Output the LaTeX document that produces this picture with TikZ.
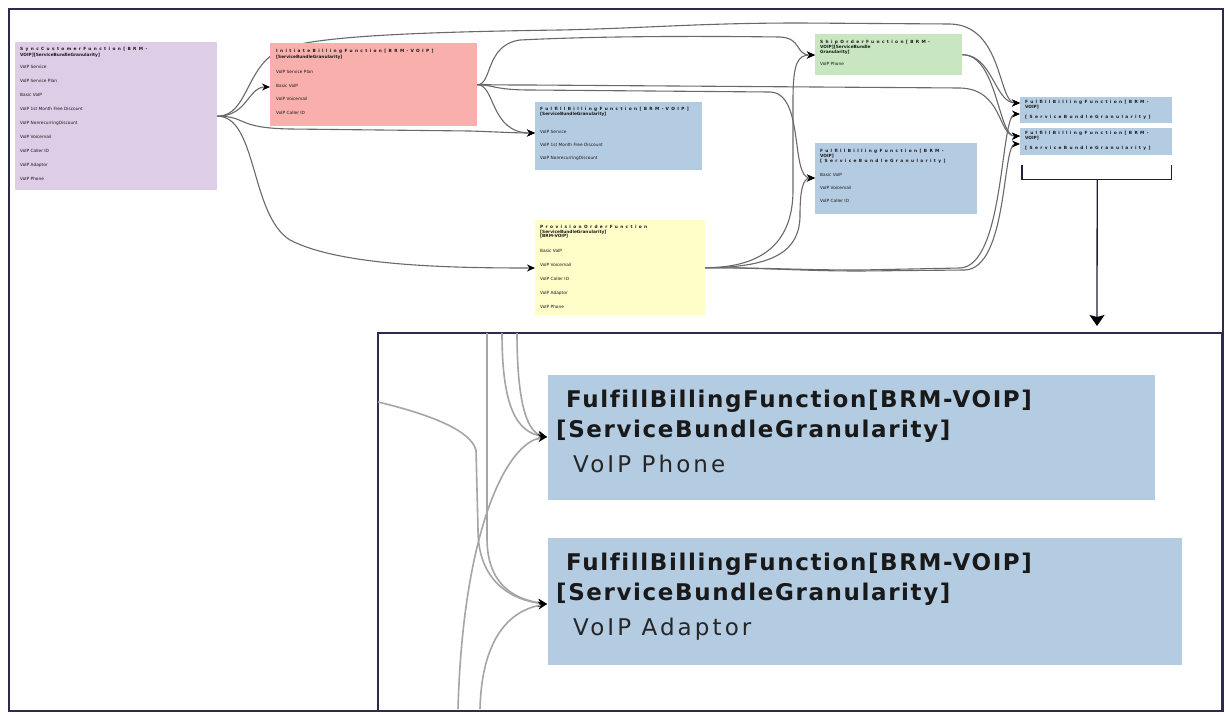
\documentclass[tikz,border=0pt]{standalone}
\usepackage{fontspec}
\setmainfont{DejaVu Sans}
\newfontfamily\ttlsp{DejaVu Sans}[LetterSpace=55]
\newfontfamily\insb{DejaVu Sans}[LetterSpace=7,Ligatures=NoCommon]
\newfontfamily\insr{DejaVu Sans}[LetterSpace=13.5,Ligatures=NoCommon]
\usetikzlibrary{arrows.meta,calc}
\pgfdeclarelayer{bg}
\pgfsetlayers{bg,main}
\definecolor{purp}{RGB}{221,205,230}
\definecolor{salmon}{RGB}{249,176,172}
\definecolor{lblue}{RGB}{180,204,226}
\definecolor{lyel}{RGB}{255,253,200}
\definecolor{lgreen}{RGB}{200,230,192}
\definecolor{navy}{RGB}{44,44,80}
\definecolor{edgegray}{RGB}{105,105,105}
\definecolor{insgray}{RGB}{165,165,165}
\newcommand{\tsp}[1]{{\ttlsp\bfseries #1}}
\tikzset{
 fbox/.style={anchor=north west, inner sep=0pt, draw=none, fill=#1},
 btxt/.style={anchor=north west, inner sep=0pt, align=left, font=\fontsize{4.3}{5}\selectfont, text=black!90},
 edge/.style={draw=edgegray, line width=1.1pt, -{Stealth[length=8pt,width=7pt,color=black]}},
 iedge/.style={draw=insgray, line width=1.6pt, -{Stealth[length=9pt,width=8pt,color=black]}},
 frameb/.style={anchor=north west, inner sep=0pt, draw=navy, line width=1.5pt},
 ibig/.style={anchor=base west, inner sep=0pt, font={\insb\bfseries\fontsize{23}{26}\selectfont}, text=black!90},
 ireg/.style={anchor=base west, inner sep=0pt, font={\insr\fontsize{23}{26}\selectfont}, text=black!85},
}
\begin{document}
\begin{tikzpicture}[x=1pt,y=-1pt]
\useasboundingbox (0,0) rectangle (1225,715);
\node[frameb, minimum width=1214pt, minimum height=702pt] (Frame) at (8,8) {};

% boxes
\node[fbox=purp, minimum width=202pt, minimum height=148pt] (P) at (15,42) {};
\node[fbox=salmon, minimum width=207pt, minimum height=83pt] (R) at (270,43) {};
\node[fbox=lblue, minimum width=167pt, minimum height=68pt] (B1) at (535,102) {};
\node[fbox=lyel, minimum width=170pt, minimum height=95pt] (Y) at (535,220) {};
\node[fbox=lgreen, minimum width=147pt, minimum height=41pt] (G) at (815,34) {};
\node[fbox=lblue, minimum width=162pt, minimum height=71pt] (B2) at (815,143) {};
\node[fbox=lblue, minimum width=152pt, minimum height=26pt] (S1) at (1020,97) {};
\node[fbox=lblue, minimum width=152pt, minimum height=27pt] (S2) at (1020,128) {};

% box texts
\node[btxt] (Pt) at ($(P.north west)+(5,5.5)$) {\tsp{SyncCustomerFunction[BRM-}\\[1pt]\textbf{VOIP][ServiceBundleGranularity]}\\[7pt]VoIP Service\\[9pt]VoIP Service Plan\\[9pt]Basic VoIP\\[9pt]VoIP 1st Month Free Discount\\[9pt]VoIP NonrecurringDiscount\\[9pt]VoIP Voicemail\\[9pt]VoIP Caller ID\\[9pt]VoIP Adaptor\\[9pt]VoIP Phone};
\node[btxt] (Rt) at ($(R.north west)+(6,6.5)$) {\tsp{InitiateBillingFunction[BRM-VOIP]}\\[1pt]\textbf{[ServiceBundleGranularity]}\\[10pt]VoIP Service Plan\\[8.5pt]Basic VoIP\\[8.5pt]VoIP Voicemail\\[8.5pt]VoIP Caller ID};
\node[btxt] (B1t) at ($(B1.north west)+(5,5.5)$) {\tsp{FulfillBillingFunction[BRM-VOIP]}\\[0pt]\textbf{[ServiceBundleGranularity]}\\[13pt]VoIP Service\\[8pt]VoIP 1st Month Free Discount\\[8pt]VoIP NonrecurringDiscount};
\node[btxt] (Yt) at ($(Y.north west)+(5,5.5)$) {\tsp{ProvisionOrderFunction}\\[0pt]\textbf{[ServiceBundleGranularity]}\\[-1pt]\textbf{[BRM-VOIP]}\\[10pt]Basic VoIP\\[9pt]VoIP Voicemail\\[9pt]VoIP Caller ID\\[9pt]VoIP Adaptor\\[9pt]VoIP Phone};
\node[btxt] (Gt) at ($(G.north west)+(5,6.5)$) {\tsp{ShipOrderFunction[BRM-}\\[0pt]\textbf{VOIP][ServiceBundle}\\[0pt]\textbf{Granularity]}\\[7pt]VoIP Phone};
\node[btxt] (B2t) at ($(B2.north west)+(5,6.5)$) {\tsp{FulfillBillingFunction[BRM-}\\[0pt]\textbf{VOIP]}\\[0pt]\tsp{[ServiceBundleGranularity]}\\[9pt]Basic VoIP\\[8pt]VoIP Voicemail\\[8pt]VoIP Caller ID};
\node[btxt] (S1t) at ($(S1.north west)+(5,3.5)$) {\tsp{FulfillBillingFunction[BRM-}\\[0pt]\textbf{VOIP]}\\[5pt]\tsp{[ServiceBundleGranularity]}};
\node[btxt] (S2t) at ($(S2.north west)+(5,3.5)$) {\tsp{FulfillBillingFunction[BRM-}\\[0pt]\textbf{VOIP]}\\[5pt]\tsp{[ServiceBundleGranularity]}};

% input points
\coordinate (Rin) at ($(R.north west)+(0,44)$);
\coordinate (B1in) at ($(B1.north west)+(0,31)$);
\coordinate (Yin) at ($(Y.north west)+(0,48)$);
\coordinate (Gin) at ($(G.north west)+(0,21)$);
\coordinate (B2in) at ($(B2.north west)+(0,35)$);
\coordinate (S1a) at ($(S1.north west)+(0,6)$);
\coordinate (S1b) at ($(S1.north west)+(0,17)$);
\coordinate (S2a) at ($(S2.north west)+(0,8)$);
\coordinate (S2b) at ($(S2.north west)+(0,16)$);

\begin{pgfonlayer}{bg}
\draw[edge] (P.east) .. controls +(30,0) and +(-22,0) .. (Rin);
\draw[edge] (P.east) .. controls +(32,0) and (245,62) .. (285,48) .. controls (320,36) and (420,32) .. (560,30) .. controls (650,28) and (700,23) .. (800,23) -- (950,24) .. controls (1003,25) and (998,103) .. (S1a);
\draw[edge] (P.east) .. controls +(30,0) and (235,128) .. (290,129) -- (470,131) .. controls (500,132) and (515,133) .. (B1in);
\draw[edge] (P.east) .. controls +(40,0) and (250,215) .. (290,240) .. controls (340,266) and (450,268) .. (Yin);
\draw[edge] (R.east) .. controls +(15,0) and (485,45) .. (520,40) .. controls (600,36) and (700,36) .. (780,37) .. controls (802,38) and (795,55) .. (Gin);
\draw[edge] (R.east) .. controls +(15,0) and (495,85) .. (530,85) -- (960,88) .. controls (1003,89) and (998,136) .. (S2a);
\draw[edge] (R.east) .. controls +(15,0) and (495,90) .. (530,90) -- (770,92) .. controls (805,93) and (790,178) .. (B2in);
\draw[edge] (R.east) .. controls +(18,0) and (490,133) .. (B1in);
\draw[edge] (Y.east) .. controls +(60,0) and (793,240) .. (793,190) -- (793,100) .. controls (793,62) and (798,55) .. (Gin);
\draw[edge] (Y.east) .. controls +(70,0) and (800,250) .. (800,215) .. controls (800,190) and (803,178) .. (B2in);
\draw[edge] (Y.east) .. controls +(60,0) and (800,270) .. (860,270) -- (960,268) .. controls (1005,266) and (1000,114) .. (S1b);
\draw[edge] (Y.east) .. controls +(60,0) and (800,271) .. (860,271) -- (965,270) .. controls (1008,268) and (1002,144) .. (S2b);
\draw[edge] (G.east) .. controls +(30,0) and (995,103) .. (S1a);
\draw[edge] (G.east) .. controls +(35,0) and (998,137) .. (S2a);
\end{pgfonlayer}

% bracket and zoom arrow
\coordinate (BrL) at ($(S2.south west)+(2,10)$);
\coordinate (BrR) at ($(S2.south east)+(-1,10)$);
\coordinate (BrM) at ($(S2.south)+(1,24)$);
\draw[draw=navy!70!black, line width=1.3pt] (BrL) |- (BrM) -| (BrR);

% inset
\node[frameb, fill=white, minimum width=844pt, minimum height=378pt] (Inset) at (377,332) {};
\coordinate (ArrT) at ($(Inset.north west)+(720,-6)$);
\draw[draw=navy!70!black, line width=1.3pt, -{Stealth[length=11pt,width=15pt,inset=2pt,color=black]}] (BrM) -- (ArrT);

\node[fbox=lblue, minimum width=607pt, minimum height=125pt] (I1) at (548,375) {};
\node[fbox=lblue, minimum width=634pt, minimum height=127pt] (I2) at (548,538) {};
\node[ibig] (I1a) at ($(I1.north west)+(18,32)$) {FulfillBillingFunction[BRM-VOIP]};
\node[ibig] (I1b) at ($(I1.north west)+(8,62)$) {[ServiceBundleGranularity]};
\node[ireg] (I1c) at ($(I1.north west)+(25,97)$) {VoIP Phone};
\node[ibig] (I2a) at ($(I2.north west)+(18,32)$) {FulfillBillingFunction[BRM-VOIP]};
\node[ibig] (I2b) at ($(I2.north west)+(8,62)$) {[ServiceBundleGranularity]};
\node[ireg] (I2c) at ($(I2.north west)+(25,97)$) {VoIP Adaptor};

\coordinate (I1in) at ($(I1.north west)+(-1,62)$);
\coordinate (I2in) at ($(I2.north west)+(-1,66)$);
\coordinate (InTopA) at ($(Inset.north west)+(110,1)$);
\coordinate (InTopB) at ($(Inset.north west)+(125,1)$);
\coordinate (InTopC) at ($(Inset.north west)+(140,1)$);
\coordinate (InLeft) at ($(Inset.north west)+(1,70)$);
\coordinate (InBotA) at ($(Inset.north west)+(81,377)$);
\coordinate (InBotB) at ($(Inset.north west)+(103,377)$);

\draw[iedge] (InTopB) .. controls +(0,75) and +(-30,-5) .. (I1in);
\draw[iedge] (InTopC) .. controls +(0,70) and +(-20,-5) .. (I1in);
\draw[iedge] (InBotA) .. controls +(5,-180) and +(-40,5) .. (I1in);
\draw[iedge] (InTopA) -- ++(0,205) .. controls +(0,45) and +(-35,-5) .. (I2in);
\draw[iedge] (InLeft) .. controls (420,412) and (470,428) .. (476,450) -- (478,530) .. controls (478,580) and (510,600) .. (I2in);
\draw[iedge] (InBotB) .. controls +(2,-80) and +(-30,5) .. (I2in);
\end{tikzpicture}
\end{document}
